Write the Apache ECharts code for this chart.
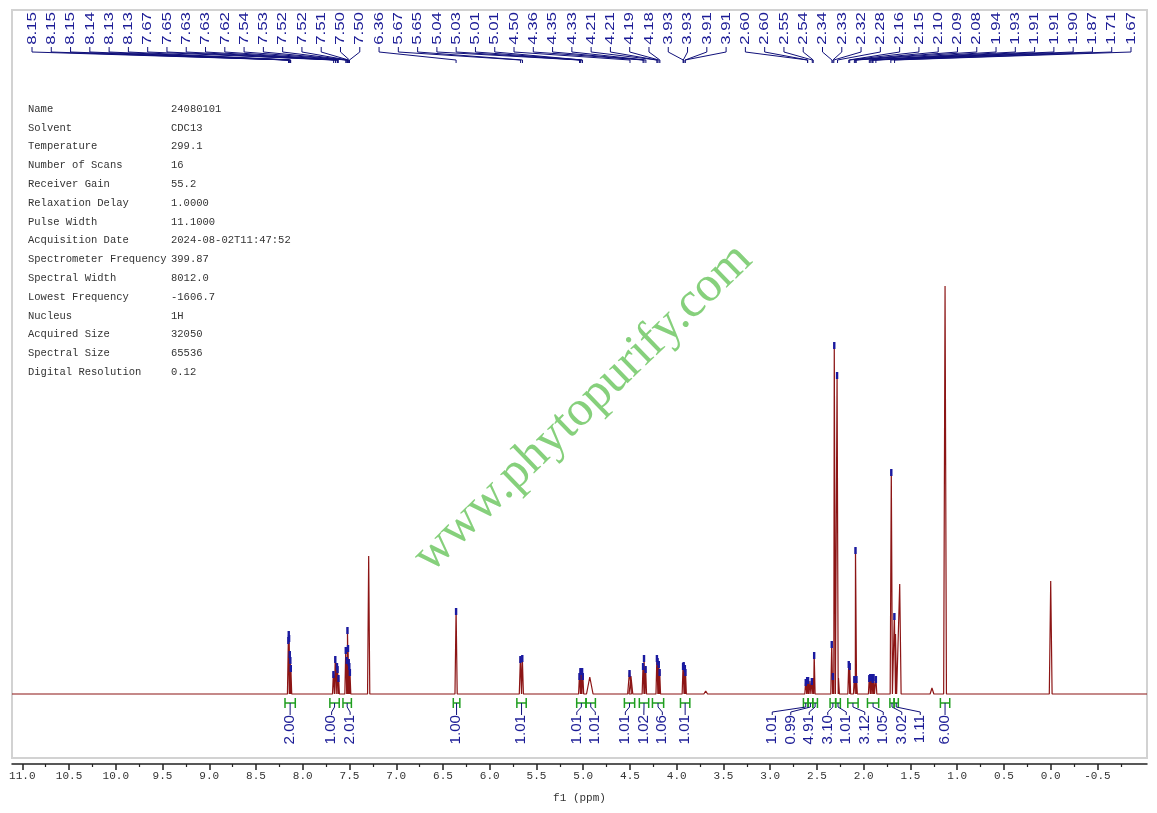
<!DOCTYPE html>
<html>
<head>
<meta charset="utf-8">
<script src="https://cdn.jsdelivr.net/npm/echarts@6/dist/echarts.min.js"></script>
<style>
  html, body { margin: 0; padding: 0; background: #fff; }
  #chartDom { width: 1157px; height: 813px; }
</style>
</head>
<body>
<div id="chartDom"></div>
<script>
// peaks: [shift (ppm), height, half width (ppm), picked]
const peaks = [
  [8.154, 56, 0.01, 1], [8.150, 62, 0.01, 1], [8.146, 58, 0.01, 1],
  [8.139, 42, 0.01, 1], [8.133, 36, 0.01, 1], [8.128, 28, 0.01, 1],
  [7.672, 22, 0.01, 1], [7.652, 37, 0.01, 1], [7.634, 30, 0.01, 1],
  [7.628, 27, 0.01, 1], [7.618, 18, 0.01, 1],
  [7.540, 46, 0.01, 1], [7.530, 36, 0.01, 1], [7.522, 66, 0.01, 1],
  [7.516, 48, 0.01, 1], [7.508, 34, 0.01, 1], [7.502, 30, 0.01, 1], [7.496, 24, 0.01, 1],
  [7.295, 138, 0.012, 0],
  [6.360, 85, 0.012, 1],
  [5.672, 37, 0.012, 1], [5.652, 38, 0.012, 1],
  [5.040, 20, 0.01, 1], [5.030, 25, 0.01, 1], [5.012, 25, 0.01, 1], [5.005, 20, 0.01, 1],
  [4.930, 17, 0.035, 0],
  [4.505, 23, 0.02, 1], [4.490, 18, 0.02, 0],
  [4.360, 30, 0.01, 1], [4.350, 38, 0.01, 1], [4.333, 27, 0.01, 1],
  [4.212, 38, 0.01, 1], [4.205, 35, 0.01, 1], [4.192, 32, 0.01, 1], [4.183, 24, 0.01, 1],
  [3.932, 30, 0.01, 1], [3.926, 31, 0.01, 1], [3.913, 28, 0.01, 1], [3.907, 24, 0.01, 1],
  [3.690, 3, 0.02, 0],
  [2.620, 14, 0.01, 1], [2.605, 16, 0.01, 1], [2.595, 16, 0.01, 1], [2.575, 13, 0.01, 0],
  [2.555, 15, 0.01, 1], [2.545, 16, 0.01, 0], [2.530, 41, 0.01, 1],
  [2.342, 52, 0.01, 1], [2.330, 20, 0.01, 1], [2.315, 351, 0.012, 1], [2.285, 321, 0.012, 1],
  [2.270, 16, 0.01, 0],
  [2.160, 32, 0.01, 1], [2.150, 30, 0.01, 1],
  [2.100, 17, 0.01, 1], [2.088, 146, 0.012, 1], [2.078, 17, 0.01, 1],
  [1.940, 18, 0.01, 1], [1.930, 19, 0.01, 1], [1.913, 19, 0.01, 1],
  [1.905, 17, 0.01, 1], [1.895, 19, 0.01, 1], [1.870, 17, 0.01, 1],
  [1.705, 224, 0.012, 1], [1.672, 80, 0.012, 1], [1.660, 60, 0.012, 0],
  [1.615, 110, 0.015, 0],
  [1.270, 6, 0.02, 0],
  [1.130, 408, 0.015, 0],
  [0.965, 2, 0.02, 0],
  [0.000, 113, 0.015, 0]
];

const peakLabels = [
  8.15, 8.15, 8.15, 8.14, 8.13, 8.13, 7.67, 7.65, 7.63, 7.63, 7.62, 7.54, 7.53, 7.52, 7.52, 7.51, 7.50, 7.50,
  6.36, 5.67, 5.65, 5.04, 5.03, 5.01, 5.01, 4.50, 4.36, 4.35, 4.33, 4.21, 4.21, 4.19, 4.18,
  3.93, 3.93, 3.91, 3.91,
  2.60, 2.60, 2.55, 2.54, 2.34, 2.33, 2.32, 2.28, 2.16, 2.15, 2.10, 2.09, 2.08,
  1.94, 1.93, 1.91, 1.91, 1.90, 1.87, 1.71, 1.67
];

// integrals: [from ppm, to ppm, value]
const integrals = [
  [8.19, 8.08, 2.00], [7.71, 7.61, 1.00], [7.57, 7.48, 2.01], [6.39, 6.32, 1.00],
  [5.71, 5.61, 1.01], [5.07, 4.97, 1.01], [4.97, 4.87, 1.01], [4.56, 4.45, 1.01],
  [4.40, 4.30, 1.02], [4.26, 4.14, 1.06], [3.96, 3.86, 1.01],
  [2.645, 2.595, 1.01], [2.595, 2.545, 0.99], [2.545, 2.495, 4.91],
  [2.36, 2.30, 3.10], [2.30, 2.25, 1.01], [2.17, 2.06, 3.12], [1.96, 1.84, 1.05],
  [1.72, 1.675, 3.02], [1.675, 1.63, 1.11], [1.18, 1.08, 6.00]
];

const majorTicks = [11.0, 10.5, 10.0, 9.5, 9.0, 8.5, 8.0, 7.5, 7.0, 6.5, 6.0, 5.5, 5.0,
  4.5, 4.0, 3.5, 3.0, 2.5, 2.0, 1.5, 1.0, 0.5, 0.0, -0.5];
const minorTicks = [10.75, 10.25, 9.75, 9.25, 8.75, 8.25, 7.75, 7.25, 6.75, 6.25, 5.75, 5.25,
  4.75, 4.25, 3.75, 3.25, 2.75, 2.25, 1.75, 1.25, 0.75, 0.25, -0.25, -0.75];

const metaKeys = ['Name', 'Solvent', 'Temperature', 'Number of Scans', 'Receiver Gain',
  'Relaxation Delay', 'Pulse Width', 'Acquisition Date', 'Spectrometer Frequency',
  'Spectral Width', 'Lowest Frequency', 'Nucleus', 'Acquired Size', 'Spectral Size',
  'Digital Resolution'];
const metaValues = ['24080101', 'CDC13', '299.1', '16', '55.2', '1.0000', '11.1000',
  '2024-08-02T11:47:52', '399.87', '8012.0', '-1606.7', '1H', '32050', '65536', '0.12'];

const X_MIN = -1.03;
const X_MAX = 11.11;
const NAVY = '#1c1c96';

// spectrum line: each peak as a narrow spike on the baseline
const spectrum = [[X_MAX, 0]];
peaks.forEach(p => {
  spectrum.push([p[0] + p[2], 0], [p[0], p[1]], [p[0] - p[2], 0]);
});
spectrum.push([X_MIN, 0]);

function renderPeakLabel(params, api) {
  const i = params.dataIndex;
  const n = peakLabels.length;
  const lx = 32 + i * (1131 - 32) / (n - 1);
  const v = api.value(0);
  const px = api.coord([v, 0])[0];
  return {
    type: 'group',
    children: [
      {
        type: 'text', x: lx, y: 12, rotation: Math.PI / 2, scaleX: 1.25,
        style: { text: v.toFixed(2), font: '13.5px "Liberation Sans"', fill: NAVY, align: 'right', verticalAlign: 'middle' }
      },
      {
        type: 'polyline',
        shape: { points: [[lx, 47], [lx, 52], [px, 60], [px, 63]] },
        style: { stroke: '#10107a', lineWidth: 1, fill: 'none' }
      }
    ]
  };
}

function integralPositions(api) {
  const gap = 18.5;
  const centers = integrals.map(d => (api.coord([d[0], 0])[0] + api.coord([d[1], 0])[0]) / 2);
  const groups = [];
  centers.forEach((c, i) => {
    groups.push({ idx: [i], sum: c });
    while (groups.length > 1) {
      const a = groups[groups.length - 2];
      const b = groups[groups.length - 1];
      const aEnd = a.sum / a.idx.length + (a.idx.length - 1) * gap / 2;
      const bStart = b.sum / b.idx.length - (b.idx.length - 1) * gap / 2;
      if (bStart - aEnd < gap) {
        a.idx = a.idx.concat(b.idx);
        a.sum += b.sum;
        groups.pop();
      } else break;
    }
  });
  const xs = [];
  groups.forEach(g => {
    const n = g.idx.length;
    const start = g.sum / n - (n - 1) * gap / 2;
    g.idx.forEach((k, j) => { xs[k] = start + j * gap; });
  });
  return xs;
}

function renderIntegral(params, api) {
  const i = params.dataIndex;
  const x1 = api.coord([api.value(0), 0])[0];
  const x2 = api.coord([api.value(1), 0])[0];
  const cx = (x1 + x2) / 2;
  const lx = integralPositions(api)[i];
  const green = { stroke: '#1f9e1f', lineWidth: 1.5 };
  return {
    type: 'group',
    children: [
      { type: 'line', shape: { x1: x1, y1: 703, x2: x2, y2: 703 }, style: green },
      { type: 'line', shape: { x1: x1, y1: 698, x2: x1, y2: 708 }, style: green },
      { type: 'line', shape: { x1: x2, y1: 698, x2: x2, y2: 708 }, style: green },
      {
        type: 'polyline',
        shape: { points: [[cx, 703], [cx, 707], [lx, 712], [lx, 715]] },
        style: { stroke: '#10107a', lineWidth: 1, fill: 'none' }
      },
      {
        type: 'text', x: lx, y: 715, rotation: Math.PI / 2, scaleX: 1.08,
        style: { text: api.value(2).toFixed(2), font: '14px "Liberation Sans"', fill: NAVY, align: 'right', verticalAlign: 'middle' }
      }
    ]
  };
}

function renderTip(params, api) {
  const p = api.coord([api.value(0), api.value(1)]);
  return {
    type: 'rect',
    shape: { x: p[0] - 1.2, y: p[1] - 1, width: 2.4, height: 7 },
    style: { fill: '#1a1aa0' }
  };
}

const metaGraphics = [];
metaKeys.forEach((k, i) => {
  const y = 109 + i * 18.8;
  metaGraphics.push(
    { type: 'text', x: 28, y: y, style: { text: k, font: '10.5px "Liberation Mono"', fill: '#333', verticalAlign: 'middle' } },
    { type: 'text', x: 171, y: y, style: { text: metaValues[i], font: '10.5px "Liberation Mono"', fill: '#333', verticalAlign: 'middle' } }
  );
});

const chart = echarts.init(document.getElementById('chartDom'));
chart.setOption({
  animation: false,
  backgroundColor: '#fff',
  grid: {
    left: 12, right: 10, top: 10, bottom: 55,
    show: true, borderColor: '#d2d2d2', borderWidth: 2
  },
  xAxis: [
    {
      type: 'value', inverse: true, min: X_MIN, max: X_MAX, position: 'bottom', offset: 6,
      axisLine: { show: true, onZero: false, lineStyle: { color: '#222', width: 1.5 } },
      axisTick: { show: true, customValues: majorTicks, length: 6, lineStyle: { color: '#222', width: 1.5 } },
      axisLabel: {
        customValues: majorTicks, margin: 7,
        formatter: v => v.toFixed(1),
        fontFamily: 'Liberation Mono', fontSize: 11, color: '#333'
      },
      splitLine: { show: false },
      name: 'f1 (ppm)', nameLocation: 'middle', nameGap: 29,
      nameTextStyle: { fontFamily: 'Liberation Mono', fontSize: 11, color: '#333' }
    },
    {
      type: 'value', inverse: true, min: X_MIN, max: X_MAX, position: 'bottom', offset: 6,
      axisLine: { show: false, onZero: false },
      axisTick: { show: true, customValues: minorTicks, length: 3, lineStyle: { color: '#222', width: 1.2 } },
      axisLabel: { show: false },
      splitLine: { show: false }
    }
  ],
  yAxis: { type: 'value', min: -64, max: 684, show: false },
  graphic: [
    {
      type: 'text', x: 583, y: 408, rotation: 44 * Math.PI / 180, z: -1,
      style: { text: 'www.phytopurify.com', font: '50px "Liberation Serif"', fill: '#86d07c', align: 'center', verticalAlign: 'middle' }
    },
    { type: 'group', children: metaGraphics }
  ],
  series: [
    {
      type: 'line', data: spectrum, showSymbol: false, symbol: 'none',
      lineStyle: { color: '#8c1515', width: 1.2 }, z: 3
    },
    {
      type: 'custom', data: peaks.filter(p => p[3]).map(p => [p[0], p[1]]),
      encode: { x: 0, y: 1 }, renderItem: renderTip, z: 4
    },
    {
      type: 'custom', data: peakLabels.map(v => [v, 0]),
      encode: { x: 0, y: 1 }, renderItem: renderPeakLabel, z: 5
    },
    {
      type: 'custom', data: integrals,
      encode: { x: 0, y: 2 }, renderItem: renderIntegral, z: 5
    }
  ]
});
</script>
</body>
</html>
